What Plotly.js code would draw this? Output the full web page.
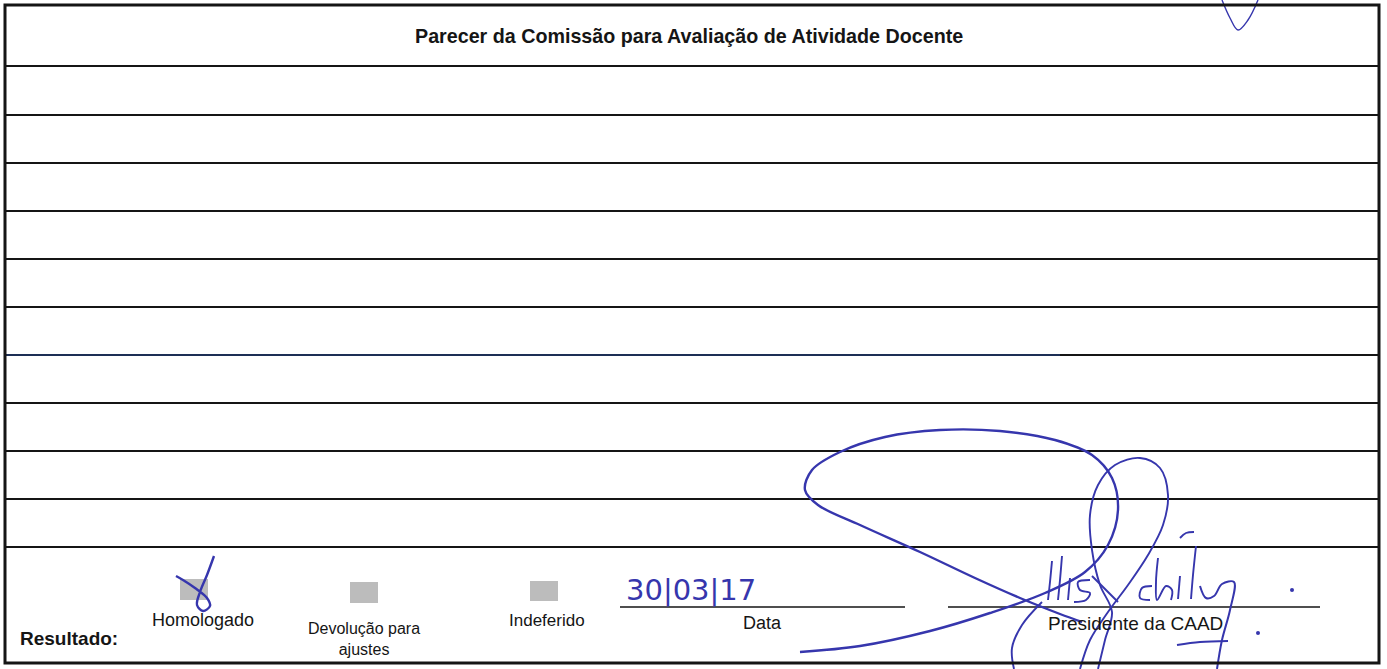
<!DOCTYPE html>
<html><head><meta charset="utf-8">
<script src="https://cdn.plot.ly/plotly-3.0.1.min.js"></script>
<style>html,body{margin:0;padding:0;background:#fff;overflow:hidden}#chart{width:1387px;height:669px}</style>
</head><body><div id="chart"></div><script>
// ---- content ----
const formTitle = "Parecer da Comissão para Avaliação de Atividade Docente";
const resultLabel = "Resultado:";
const optionLabels = ["Homologado", "Devolução para<br>ajustes", "Indeferido"];
const footerLabels = ["Data", "Presidente da CAAD"];
const handwrittenDate = "30|03|17";

// ruled lines of the form (page pixels, y downward)
const ruleY = [66, 115, 163, 211, 259, 307, 355, 403, 451, 499, 547];
// check boxes (left, right, top, bottom)
const boxX0 = [180, 350, 530];
const boxX1 = [208, 378, 558];
const boxY0 = [579, 582, 581];
const boxY1 = [600, 603, 601];
// signature / date lines
const footLineX0 = [620, 948];
const footLineX1 = [905, 1320];
const footLineY = [607, 607];

// ink strokes (hand-traced)
const loopX = [800, 860, 930, 990, 1045, 1085, 1108, 1118, 1112, 1092, 1055, 1000, 940, 885, 840, 812, 805, 818, 860, 920, 975, 1020, 1060, 1082];
const loopY = [652, 646, 631, 613, 593, 572, 545, 510, 478, 455, 440, 431, 430, 437, 452, 470, 490, 505, 525, 552, 578, 598, 614, 622];
const tallX = [1098, 1105, 1112, 1100, 1092, 1090, 1098, 1115, 1140, 1160, 1168, 1163, 1148, 1128, 1108, 1090, 1080];
const tallY = [669, 640, 612, 585, 550, 515, 485, 465, 458, 468, 495, 525, 555, 585, 612, 640, 669];
const hookX = [1042, 1022, 1012, 1014];
const hookY = [602, 625, 648, 669];
const letterL1X = [1052, 1050, 1048]; const letterL1Y = [561, 582, 600];
const letterL2X = [1062, 1060, 1058]; const letterL2Y = [556, 580, 600];
const letterSX = [1090, 1078, 1080, 1090, 1086, 1074]; const letterSY = [580, 582, 590, 593, 600, 602];
const letterI1X = [1070, 1068]; const letterI1Y = [578, 600];
const crossAX = [1092, 1118]; const crossAY = [576, 602];
const letterCX = [1152, 1142, 1140, 1150]; const letterCY = [586, 588, 598, 600];
const letterHX = [1158, 1156, 1157, 1166, 1172, 1171]; const letterHY = [558, 582, 600, 586, 590, 600];
const letterI2X = [1180, 1178]; const letterI2Y = [576, 599];
const accentX = [1180, 1186, 1194]; const accentY = [538, 533, 532];
const letterL3X = [1196, 1193, 1191]; const letterL3Y = [546, 575, 599];
const letterYX = [1200, 1206, 1214, 1222, 1234, 1230, 1222, 1217]; const letterYY = [586, 598, 596, 584, 582, 610, 640, 669];
const underX = [1177, 1200, 1228]; const underY = [645, 642, 641];
const dotX = [1292, 1258]; const dotY = [590, 633];
const topVX = [1222, 1230, 1238, 1248, 1258]; const topVY = [0, 18, 30, 20, 0];
const checkX = [214, 207, 200, 197, 203, 210, 207, 195, 183, 176];
const checkY = [556, 575, 592, 605, 611, 606, 598, 588, 580, 576];
// scan tint on one ruled line
const tintX0 = [5]; const tintX1 = [1060]; const tintY = [355];

// ---- build ----
const INK = '#3636ad';
const BLACK = '#151515';
const FONT = 'Liberation Sans, Arial, sans-serif';

function segs(xs0, xs1, ys0, ys1) {
  const x = [], y = [];
  for (let i = 0; i < xs0.length; i++) { x.push(xs0[i], xs1[i], null); y.push(ys0[i], ys1[i], null); }
  return {x, y};
}
const rules = segs(ruleY.map(() => 5), ruleY.map(() => 1379), ruleY, ruleY);
const foot = segs(footLineX0, footLineX1, footLineY, footLineY);
const tint = segs(tintX0, tintX1, tintY, tintY);

const strokes = [
  [loopX, loopY, 2.4], [tallX, tallY, 1.9], [hookX, hookY, 1.9],
  [letterL1X, letterL1Y, 1.9], [letterL2X, letterL2Y, 1.9], [letterSX, letterSY, 1.9],
  [letterI1X, letterI1Y, 1.9], [crossAX, crossAY, 1.9], [letterCX, letterCY, 1.9],
  [letterHX, letterHY, 1.9], [letterI2X, letterI2Y, 1.9], [accentX, accentY, 1.9],
  [letterL3X, letterL3Y, 1.9], [letterYX, letterYY, 2], [underX, underY, 2.2],
  [topVX, topVY, 1.4], [checkX, checkY, 2.4]
];

const traces = [
  {x: rules.x, y: rules.y, mode: 'lines', line: {color: BLACK, width: 2}, hoverinfo: 'skip'},
  {x: tint.x, y: tint.y, mode: 'lines', line: {color: '#1d2f55', width: 2}, hoverinfo: 'skip'},
  {x: foot.x, y: foot.y, mode: 'lines', line: {color: BLACK, width: 1.6}, hoverinfo: 'skip'}
];
strokes.forEach(s => traces.push({x: s[0], y: s[1], mode: 'lines',
  line: {color: INK, width: s[2], shape: 'spline', smoothing: 1}, hoverinfo: 'skip'}));
traces.push({x: dotX, y: dotY, mode: 'markers', marker: {color: INK, size: 4}, hoverinfo: 'skip'});

const shapes = [
  {type: 'rect', xref: 'x', yref: 'y', x0: 5, x1: 1379, y0: 5, y1: 663, line: {color: BLACK, width: 3}, fillcolor: 'rgba(0,0,0,0)', layer: 'above'}
];
for (let i = 0; i < boxX0.length; i++) {
  shapes.push({type: 'rect', xref: 'x', yref: 'y', x0: boxX0[i], x1: boxX1[i], y0: boxY0[i], y1: boxY1[i],
    line: {width: 0}, fillcolor: '#bcbcbc', layer: 'below'});
}

const optionCX = [203, 364, 547];
const optionCY = [620, 639, 620];
const optionSize = [18, 16, 17];
const annotations = [
  {x: 689, y: 36, text: '<b>' + formTitle + '</b>', font: {family: FONT, size: 19.7, color: BLACK}},
  {x: 18, y: 638, xanchor: 'left', text: '<b>' + resultLabel + '</b>', font: {family: FONT, size: 19, color: BLACK}},
  {x: 762, y: 623, text: footerLabels[0], font: {family: FONT, size: 18, color: BLACK}},
  {x: 1135, y: 623, text: footerLabels[1], font: {family: FONT, size: 19, color: BLACK}},
  {x: 691, y: 590, text: handwrittenDate, font: {family: 'DejaVu Sans, sans-serif', size: 29, color: INK}}
];
optionLabels.forEach((t, i) => annotations.push({x: optionCX[i], y: optionCY[i], text: t,
  font: {family: FONT, size: optionSize[i], color: BLACK}}));
annotations.forEach(a => { a.xref = 'x'; a.yref = 'y'; a.showarrow = false; if (!a.xanchor) a.xanchor = 'center'; a.yanchor = 'middle'; });

const layout = {
  width: 1387, height: 669, margin: {l: 0, r: 0, t: 0, b: 0},
  paper_bgcolor: '#ffffff', plot_bgcolor: '#ffffff', showlegend: false,
  xaxis: {range: [0, 1387], visible: false, fixedrange: true},
  yaxis: {range: [669, 0], visible: false, fixedrange: true},
  shapes, annotations
};
Plotly.newPlot('chart', traces, layout, {displayModeBar: false, staticPlot: true});
</script></body></html>
